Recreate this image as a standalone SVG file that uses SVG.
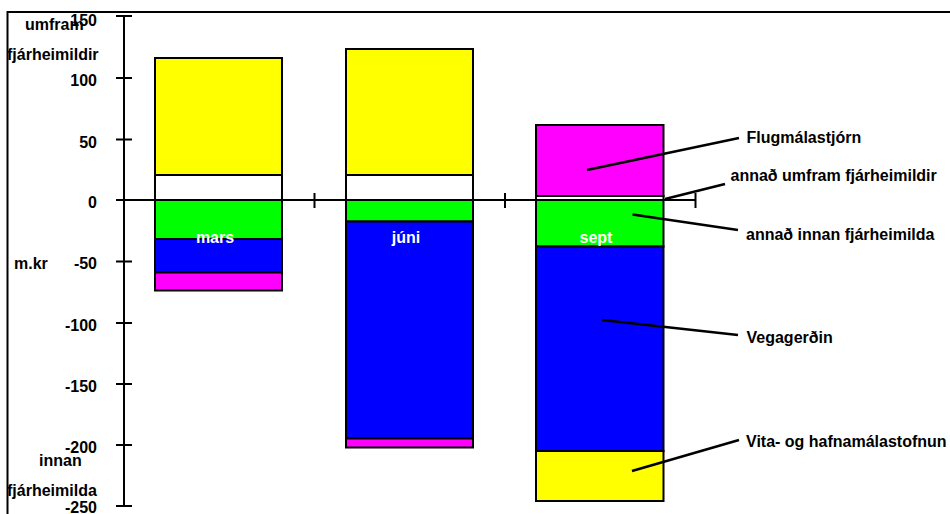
<svg xmlns="http://www.w3.org/2000/svg" width="950" height="514" viewBox="0 0 950 514">
<style>
text{font-family:"Liberation Sans",Arial,sans-serif;font-weight:bold;font-size:16px;fill:#000}
.ax{text-anchor:end}
.in{fill:#fff;text-anchor:middle}
.seg{stroke:#000;stroke-width:2}
.y{fill:#ffff00}.w{fill:#fff}.g{fill:#00ff00}.b{fill:#0000ff}.m{fill:#ff00ff}
.ln{stroke:#000;stroke-width:2;fill:none}
.ld{stroke:#000;stroke-width:2.5;fill:none}
</style>
<rect width="950" height="514" fill="#fff"/>
<g id="frame"><path class="ln" d="M7.5,514 V12 H950" stroke-width="3"/></g>
<g id="axis-labels">
<text x="25" y="30">umfram</text>
<text x="7" y="60">fjárheimildir</text>
<text class="ax" x="97" y="26">150</text>
<text class="ax" x="97" y="86">100</text>
<text class="ax" x="97" y="148">50</text>
<text class="ax" x="97" y="208">0</text>
<text x="14" y="269">m.kr</text>
<text class="ax" x="97" y="269">-50</text>
<text class="ax" x="97" y="331">-100</text>
<text class="ax" x="97" y="392">-150</text>
<text class="ax" x="97" y="453">-200</text>
<text x="39" y="466">innan</text>
<text x="7" y="496">fjárheimilda</text>
<text class="ax" x="97" y="513">-250</text>
</g>
<g id="bar-mars">
<rect class="seg y" x="155" y="58" width="127" height="117"/>
<rect class="seg w" x="155" y="175" width="127" height="25"/>
<rect class="seg g" x="155" y="200" width="127" height="39"/>
<rect class="seg b" x="155" y="239" width="127" height="33.5"/>
<rect class="seg m" x="155" y="272.5" width="127" height="18"/>
<text class="in" x="215" y="243">mars</text>
</g>
<g id="bar-juni">
<rect class="seg y" x="346" y="49" width="127" height="126"/>
<rect class="seg w" x="346" y="175" width="127" height="25"/>
<rect class="seg g" x="346" y="200" width="127" height="21.5"/>
<rect class="seg b" x="346" y="221.5" width="127" height="217"/>
<rect class="seg m" x="346" y="438.5" width="127" height="9"/>
<text class="in" x="406" y="243">júni</text>
</g>
<g id="bar-sept">
<rect class="seg m" x="536" y="125" width="127.5" height="71"/>
<rect class="seg w" x="536" y="196" width="127.5" height="4"/>
<rect class="seg g" x="536" y="200" width="127.5" height="46.5"/>
<rect class="seg b" x="536" y="246.5" width="127.5" height="204.5"/>
<rect class="seg y" x="536" y="451" width="127.5" height="50"/>
<text class="in" x="596" y="243">sept</text>
</g>
<g id="axes">
<path class="ln" d="M124,16 V506 M116,16 H132 M116,78 H132 M116,139.5 H132 M116,200 H132 M116,261.5 H132 M116,323 H132 M116,384 H132 M116,445 H132 M116,506 H132"/>
<path class="ln" d="M124,200 H695.5 M314.5,193 V208 M505,193 V208 M695.5,193 V208" stroke-width="1.5"/>
</g>
<g id="connectors">
<path class="ld" d="M587,170 L739,138"/>
<path class="ld" d="M665,199 L725,184"/>
<path class="ld" d="M632.5,214.5 L738,230"/>
<path class="ld" d="M602,320 L738,335"/>
<path class="ld" d="M632,471 L739,440"/>
</g>
<g id="legend-labels">
<text x="746.5" y="143">Flugmálastjórn</text>
<text x="730.5" y="181">annað umfram fjárheimildir</text>
<text x="746" y="240">annað innan fjárheimilda</text>
<text x="746.5" y="343">Vegagerðin</text>
<text x="746" y="447">Vita- og hafnamálastofnun</text>
</g>
</svg>
